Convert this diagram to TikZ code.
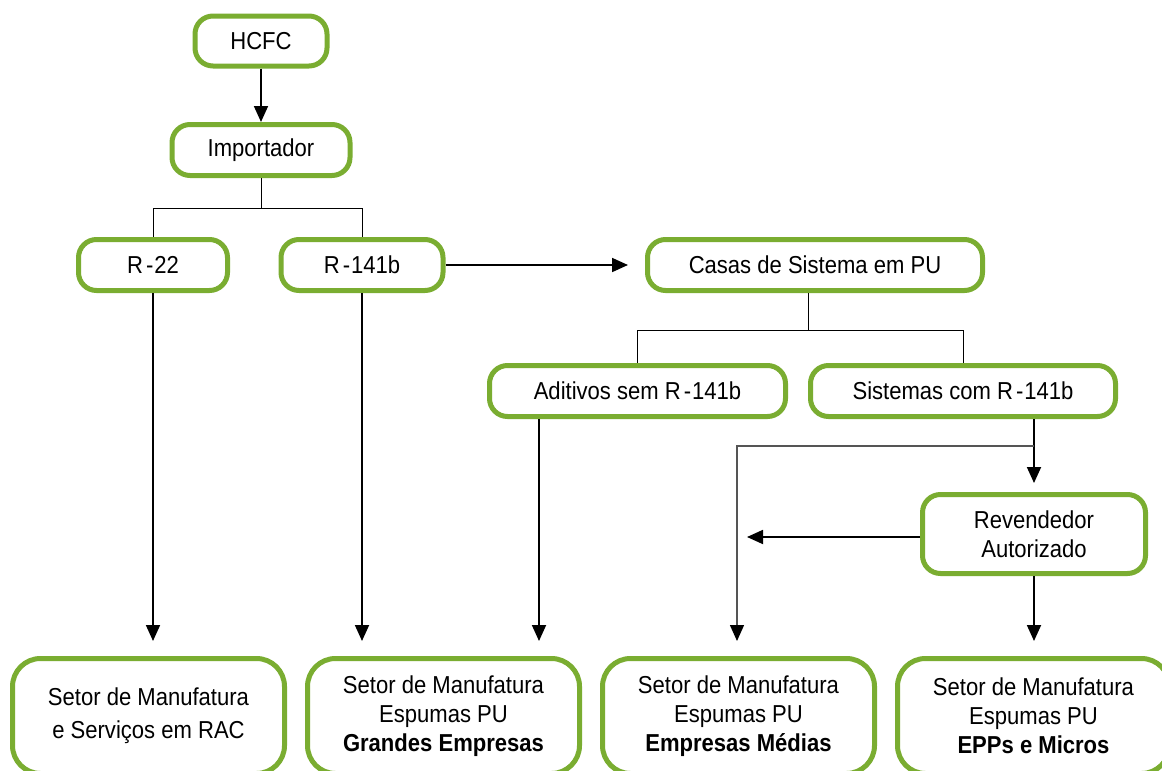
\documentclass[tikz,border=0pt]{standalone}
\usepackage{fontspec}
\setmainfont{Liberation Sans}[FakeStretch=0.9]
\usetikzlibrary{arrows.meta,calc}
\definecolor{boxgreen}{RGB}{122,173,49}
\definecolor{linegray}{RGB}{85,85,85}
\tikzset{
  box/.style={draw=boxgreen, line width=5pt, rounded corners=18pt, fill=white,
    align=center, inner sep=0pt, font=\fontsize{24.5}{29}\selectfont},
  bigbox/.style={box, rounded corners=28pt, minimum width=272pt, minimum height=115pt},
  arr/.style={-{Triangle[width=14pt,length=16pt]}, line width=1.8pt},
  treeline/.style={line width=1pt},
  grayarr/.style={-{Triangle[width=14pt,length=16pt,color=black]}, line width=1.4pt, draw=linegray},
}
\begin{document}
\begin{tikzpicture}[x=1pt,y=-1pt]
\useasboundingbox (0,0) rectangle (1162,771);
\clip (0,0) rectangle (1162,771);

\node[box, minimum width=132pt, minimum height=50pt] (hcfc) at (261,41) {HCFC};
\node[box, minimum width=178pt, minimum height=51pt] (imp) at (261,150) {Importador};
\node[box, minimum width=149pt, minimum height=51pt] (r22) at (153,265) {R\kern3pt-\kern1pt22};
\node[box, minimum width=162pt, minimum height=51pt] (r141) at (362,265) {R\kern3pt-\kern1pt141b};
\node[box, minimum width=335pt, minimum height=51pt] (casas) at (815,265) {Casas de Sistema em PU};
\node[box, minimum width=296pt, minimum height=51pt] (adit) at (637.5,391) {Aditivos sem R\kern3pt-\kern1pt141b};
\node[box, minimum width=305pt, minimum height=51pt] (sist) at (963,391) {Sistemas com R\kern3pt-\kern1pt141b};
\node[box, minimum width=223pt, minimum height=79pt] (rev) at (1034,534) {Revendedor\\Autorizado};

\node[bigbox] (b1) at (148.5,716) {Setor de Manufatura\\[4pt]e Serviços em RAC};
\node[bigbox] (b2) at (443.5,716) {Setor de Manufatura\\Espumas PU\\\textbf{Grandes Empresas}};
\node[bigbox] (b3) at (738.5,716) {Setor de Manufatura\\Espumas PU\\\textbf{Empresas Médias}};
\node[bigbox] (b4) at (1033.5,716) {Setor de Manufatura\\Espumas PU\\\textbf{EPPs e Micros}};

% connectors
\draw[arr] (hcfc.south) -- (imp.north);
\draw[treeline] (imp.south) -- ++(0,30) coordinate (ibar) -| (r22.north);
\draw[treeline] (ibar) -| (r141.north);

\draw[arr] (r22.south) -- ($(b1.north -| r22.south)+(0,-15)$);
\draw[arr] (r141.south) -- ($(b2.north -| r141.south)+(0,-15)$);
\draw[arr, shorten >=17pt] (r141.east) -- (casas.west);

\coordinate (cstem) at (808,293);
\draw[treeline] (cstem) -- (808,330) coordinate (cbar) -| (adit.north);
\draw[treeline] (cbar) -| (sist.north);

\coordinate (aout) at (539,419);
\draw[arr] (aout) -- ($(b2.north -| aout)+(0,-15)$);

\coordinate (sout) at (sist.south -| rev.north);
\draw[arr] (sout) -- ($(rev.north)+(0,-9)$);
\coordinate (branch) at (1034,446);
\coordinate (mtip) at (737,641);
\draw[grayarr] (branch) -- (mtip |- branch) -- (mtip);

\coordinate (revtip) at (747,537);
\draw[arr] (rev.west |- revtip) -- (revtip);
\draw[arr] (rev.south) -- ($(b4.north -| rev.south)+(0,-15)$);
\end{tikzpicture}
\end{document}
